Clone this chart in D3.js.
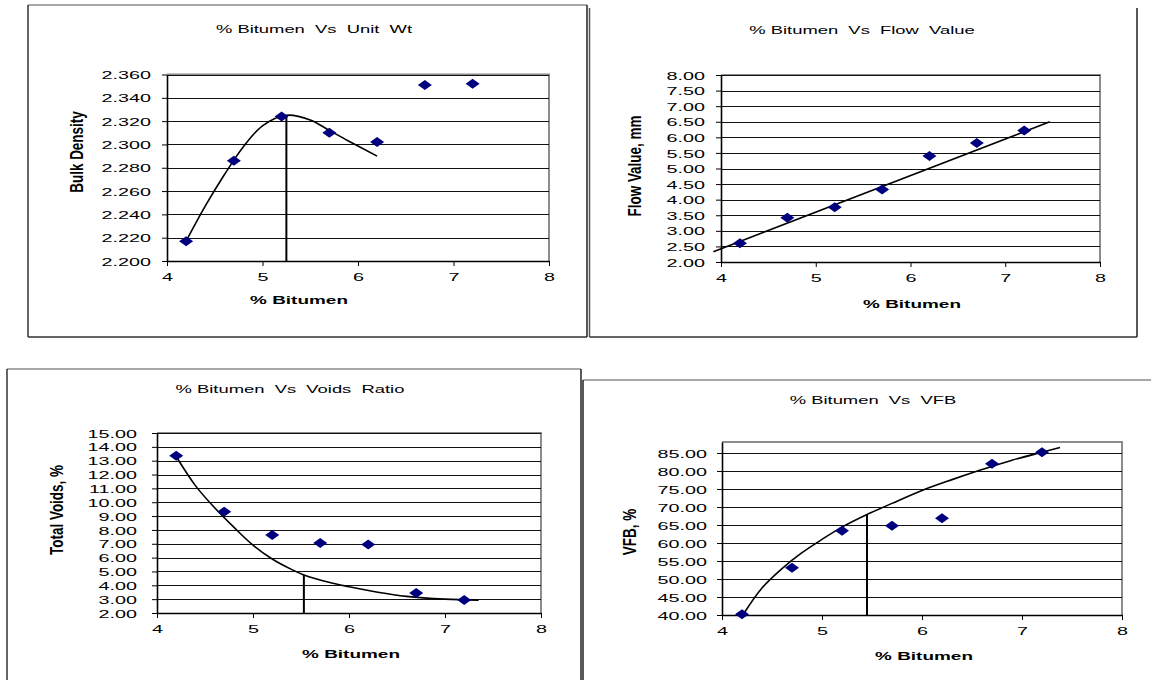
<!DOCTYPE html>
<html>
<head>
<meta charset="utf-8">
<script src="https://cdn.jsdelivr.net/npm/d3@7/dist/d3.min.js"></script>
<style>
  body { margin: 0; background: #fff; }
  svg { display: block; font-family: "Liberation Sans", Arial, sans-serif; }
  text { white-space: pre; }
</style>
</head>
<body>
<div id="chart"></div>
<script>
// % bitumen content of the trial mixes
const bitumen = [4.2, 4.7, 5.2, 5.7, 6.2, 6.7, 7.2];

// measured values
const unitWt = [2.217, 2.286, 2.324, 2.310, 2.302, 2.351, 2.352];
const flowValue = [2.60, 3.42, 3.76, 4.33, 5.40, 5.82, 6.22];
const totalVoids = [13.35, 9.32, 7.64, 7.06, 6.94, 3.45, 2.94];
const vfb = [40.2, 53.1, 63.4, 64.8, 66.9, 82.0, 85.2];

// trend lines
const unitWtTrendX = [4.2, 4.4, 4.6, 4.8, 5.0, 5.25, 5.5, 5.7, 5.9, 6.2];
const unitWtTrendY = [2.217, 2.247, 2.274, 2.298, 2.316, 2.325, 2.321, 2.312, 2.303, 2.290];
const flowTrendX = [3.92, 7.47];
const flowTrendY = [2.33, 6.50];
const voidsTrendX = [4.2, 4.4, 4.6, 4.8, 5.0, 5.2, 5.4, 5.53, 5.8, 6.0, 6.3, 6.6, 7.0, 7.35];
const voidsTrendY = [13.3, 11.2, 9.6, 8.2, 6.9, 5.9, 5.15, 4.75, 4.2, 3.9, 3.5, 3.2, 3.0, 2.93];
const vfbTrendX = [4.22, 4.4, 4.6, 4.8, 5.0, 5.2, 5.45, 5.7, 6.0, 6.3, 6.6, 6.9, 7.2, 7.38];
const vfbTrendY = [40.5, 47.5, 52.9, 57.3, 61.0, 64.4, 67.9, 71.0, 74.6, 77.6, 80.4, 83.0, 85.2, 86.5];

// optimum bitumen markers [x, y]
const unitWtOpt = [5.25, 2.325];
const voidsOpt = [5.53, 4.75];
const vfbOpt = [5.45, 67.9];

// tick labels
const xTicks = [4, 5, 6, 7, 8];
const unitWtTicks = [2.200, 2.220, 2.240, 2.260, 2.280, 2.300, 2.320, 2.340, 2.360];
const flowTicks = [2.0, 2.5, 3.0, 3.5, 4.0, 4.5, 5.0, 5.5, 6.0, 6.5, 7.0, 7.5, 8.0];
const voidsTicks = [2, 3, 4, 5, 6, 7, 8, 9, 10, 11, 12, 13, 14, 15];
const vfbTicks = [40, 45, 50, 55, 60, 65, 70, 75, 80, 85];

const W = 1151, H = 680;
const SX = 1.72; // the source picture is stretched sideways

const svg = d3.select("#chart").append("svg")
    .attr("width", W)
    .attr("height", H)

// panel borders
const borders = svg.append("g")
function bline(x1, y1, x2, y2, c, w) {
    borders.append("line").attr("x1", x1).attr("y1", y1).attr("x2", x2).attr("y2", y2)
        .attr("stroke", c).attr("stroke-width", w)
}
bline(28, 5, 587, 5, "#a8a8a8", 2)
bline(28, 5, 28, 337, "#333", 1.5)
bline(587, 5, 587, 337, "#222", 1.5)
bline(28, 337, 587, 337, "#333", 1.5)
bline(589.5, 8, 589.5, 337, "#555", 1.5)
bline(1137, 8, 1137, 337, "#222", 1.5)
bline(589.5, 337, 1137, 337, "#333", 1.5)
bline(7, 369, 581, 369, "#a8a8a8", 2)
bline(7, 369, 7, 680, "#333", 1.5)
bline(581, 369, 581, 680, "#222", 1.5)
bline(583, 380, 1151, 380, "#a8a8a8", 2)
bline(583, 380, 583, 680, "#222", 1.5)

function label(x, y, txt, size, weight, sx, rotate) {
    svg.append("text")
        .attr("transform", `translate(${x},${y}) scale(${sx},1)` + (rotate ? " rotate(-90)" : ""))
        .attr("text-anchor", "middle")
        .attr("dy", rotate ? "0.36em" : null)
        .style("font-size", size + "px")
        .style("font-weight", weight)
        .text(txt)
}

const panels = [
    {
        title: "% Bitumen  Vs  Unit  Wt", titleX: 314, titleY: 33,
        yTitle: "Bulk Density", yTitleX: 76, yTitleY: 152,
        xTitleX: 299, xTitleY: 304,
        xr: [167, 549], yr: [261, 74.5], yDomain: [2.2, 2.36], frameTop: 74.5,
        yTicks: unitWtTicks, fmt: ".3f", labelGap: 16, xLabelDy: 20,
        values: unitWt, trendX: unitWtTrendX, trendY: unitWtTrendY, opt: unitWtOpt
    },
    {
        title: "% Bitumen  Vs  Flow  Value", titleX: 862, titleY: 34,
        yTitle: "Flow Value, mm", yTitleX: 634, yTitleY: 166,
        xTitleX: 912, xTitleY: 308,
        xr: [721, 1100], yr: [262, 75], yDomain: [2, 8], frameTop: 75,
        yTicks: flowTicks, fmt: ".2f", labelGap: 16, xLabelDy: 20,
        values: flowValue, trendX: flowTrendX, trendY: flowTrendY, opt: null
    },
    {
        title: "% Bitumen  Vs  Voids  Ratio", titleX: 290, titleY: 393,
        yTitle: "Total Voids, %", yTitleX: 56, yTitleY: 510,
        xTitleX: 351, xTitleY: 658,
        xr: [157, 541], yr: [613, 433], yDomain: [2, 15], frameTop: 433,
        yTicks: voidsTicks, fmt: ".2f", labelGap: 20, xLabelDy: 20,
        values: totalVoids, trendX: voidsTrendX, trendY: voidsTrendY, opt: voidsOpt
    },
    {
        title: "% Bitumen  Vs  VFB", titleX: 873, titleY: 404,
        yTitle: "VFB, %", yTitleX: 629, yTitleY: 532,
        xTitleX: 924, xTitleY: 660,
        xr: [722, 1122], yr: [615, 442], yDomain: [40, 88.05], frameTop: 442,
        yTicks: vfbTicks, fmt: ".2f", labelGap: 15, xLabelDy: 20,
        values: vfb, trendX: vfbTrendX, trendY: vfbTrendY, opt: vfbOpt
    }
]

panels.forEach(p => {
    const x = d3.scaleLinear().domain([4, 8]).range(p.xr)
    const y = d3.scaleLinear().domain(p.yDomain).range(p.yr)
    const g = svg.append("g")
    const left = p.xr[0], right = p.xr[1], bottom = p.yr[0]

    // plot area frame (grey top and right)
    g.append("path")
        .attr("d", `M${left},${p.frameTop}H${right}V${bottom}`)
        .attr("fill", "none").attr("stroke", "#8c8c8c").attr("stroke-width", 2)

    // horizontal gridlines
    g.append("g").selectAll("line")
        .data(p.yTicks.filter(t => y(t) < bottom - 1))
        .enter().append("line")
        .attr("x1", left).attr("x2", right)
        .attr("y1", d => Math.round(y(d)) + 0.5).attr("y2", d => Math.round(y(d)) + 0.5)
        .attr("stroke", "#111").attr("stroke-width", 1)

    // axes
    const ya = g.append("g")
        .attr("transform", `translate(${left},0)`)
        .call(d3.axisLeft(y).tickValues(p.yTicks).tickSize(5).tickSizeOuter(0).tickFormat(d3.format(p.fmt)))
    const xa = g.append("g")
        .attr("transform", `translate(0,${bottom})`)
        .call(d3.axisBottom(x).tickValues(xTicks).tickSize(5).tickSizeOuter(0).tickFormat(d3.format("d")))
    ;[ya, xa].forEach(a => {
        a.select(".domain").attr("stroke", "#000").attr("stroke-width", 1.6)
        a.selectAll(".tick line").attr("stroke", "#000")
        a.selectAll(".tick text")
            .attr("fill", "#000")
            .style("font-size", "11.5px")
            .style("font-family", '"Liberation Sans", Arial, sans-serif')
    })
    ya.selectAll(".tick text")
        .attr("x", null).attr("dy", "0.36em")
        .attr("transform", `translate(${-p.labelGap},0) scale(${SX},1)`)
    xa.selectAll(".tick text")
        .attr("y", null).attr("dy", null)
        .attr("transform", `translate(0,${p.xLabelDy}) scale(${SX},1)`)

    // optimum marker line
    if (p.opt) {
        g.append("line")
            .attr("x1", x(p.opt[0])).attr("x2", x(p.opt[0]))
            .attr("y1", y(p.opt[1])).attr("y2", bottom)
            .attr("stroke", "#000").attr("stroke-width", 2)
    }

    // trend line
    const trend = p.trendX.map((v, i) => [v, p.trendY[i]])
    g.append("path")
        .datum(trend)
        .attr("fill", "none")
        .attr("stroke", "#000")
        .attr("stroke-width", 1.6)
        .attr("d", d3.line().x(d => x(d[0])).y(d => y(d[1])).curve(d3.curveCatmullRom))

    // data points
    g.append("g").selectAll("path")
        .data(bitumen.map((b, i) => [b, p.values[i]]))
        .enter().append("path")
        .attr("transform", d => `translate(${x(d[0])},${y(d[1])})`)
        .attr("d", "M0,-5L7,0L0,5L-7,0Z")
        .attr("fill", "#00007f")

    label(p.titleX, p.titleY, p.title, 11.5, "normal", 1.6, false)
    label(p.xTitleX, p.xTitleY, "% Bitumen", 11.5, "bold", 1.65, false)
    label(p.yTitleX, p.yTitleY, p.yTitle, 13.5, "bold", 1.35, true)
})
</script>
</body>
</html>
